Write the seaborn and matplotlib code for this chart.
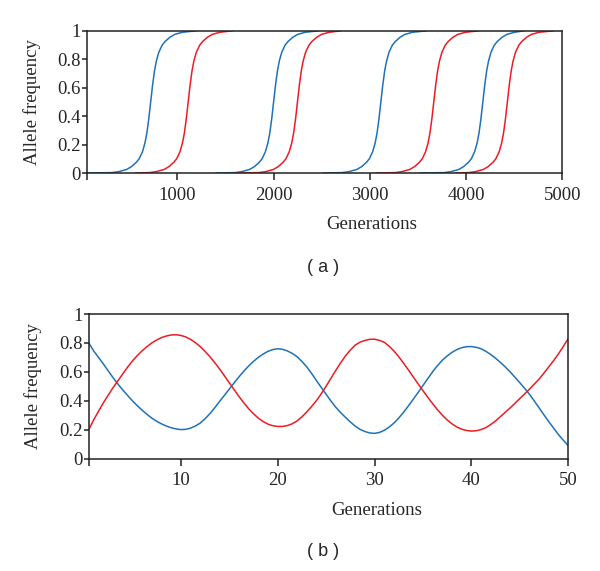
import matplotlib

matplotlib.use("Agg")

import matplotlib.pyplot as plt
import pandas as pd
import seaborn as sns

BLUE = "#1f72b8"
RED = "#ec1c24"

# (a) frequency levels every sweep passes through, and the generation where each sweep reaches them
sweep_freq = [0, 0.003, 0.01, 0.025, 0.045, 0.075, 0.10, 0.15, 0.21, 0.28, 0.38,
              0.50, 0.62, 0.72, 0.79, 0.85, 0.90, 0.925, 0.955, 0.975, 0.99, 1.0]
blue_sweeps = [
    [60, 322, 392, 472, 522, 572, 602, 637, 662, 682, 702, 722, 742, 762, 782, 807, 842, 872, 922, 972, 1052, 1192],
    [1400, 1600, 1670, 1750, 1800, 1850, 1880, 1915, 1940, 1960, 1980, 2000, 2020, 2040, 2060, 2085, 2120, 2150, 2200, 2250, 2330, 2465],
    [2510, 2715, 2785, 2865, 2915, 2965, 2995, 3030, 3055, 3075, 3095, 3115, 3135, 3155, 3175, 3200, 3235, 3265, 3315, 3365, 3445, 3590],
    [3520, 3775, 3845, 3925, 3975, 4025, 4055, 4090, 4115, 4135, 4155, 4175, 4195, 4215, 4235, 4260, 4295, 4325, 4375, 4425, 4505, 4600],
]
red_sweeps = [
    [565, 712, 782, 862, 912, 962, 992, 1027, 1052, 1072, 1092, 1112, 1132, 1152, 1172, 1197, 1232, 1262, 1312, 1362, 1442, 1570],
    [1620, 1848, 1918, 1998, 2048, 2098, 2128, 2163, 2188, 2208, 2228, 2248, 2268, 2288, 2308, 2333, 2368, 2398, 2448, 2498, 2578, 2700],
    [3060, 3265, 3335, 3415, 3465, 3515, 3545, 3580, 3605, 3625, 3645, 3665, 3685, 3705, 3725, 3750, 3785, 3815, 3865, 3915, 3995, 4130],
    [3890, 4030, 4100, 4180, 4230, 4280, 4310, 4345, 4370, 4390, 4410, 4430, 4450, 4470, 4490, 4515, 4550, 4580, 4630, 4680, 4760, 4910],
]

# (b) oscillating frequencies, read every half generation
gen_b = [g / 2 for g in range(1, 101)]
red_b = [0.20, 0.267, 0.327, 0.385, 0.438, 0.49, 0.538, 0.585, 0.632, 0.675,
         0.712, 0.745, 0.774, 0.80, 0.82, 0.837, 0.848, 0.855, 0.857, 0.852,
         0.842, 0.825, 0.802, 0.775, 0.742, 0.705, 0.664, 0.62, 0.573, 0.525,
         0.477, 0.43, 0.386, 0.345, 0.31, 0.28, 0.256, 0.238, 0.227, 0.222,
         0.222, 0.228, 0.24, 0.26, 0.288, 0.322, 0.36, 0.40, 0.448, 0.50,
         0.555, 0.61, 0.662, 0.71, 0.75, 0.785, 0.805, 0.817, 0.825, 0.826,
         0.818, 0.805, 0.778, 0.745, 0.705, 0.66, 0.613, 0.565, 0.517, 0.47,
         0.424, 0.38, 0.338, 0.30, 0.267, 0.24, 0.218, 0.203, 0.194, 0.19,
         0.192, 0.20, 0.214, 0.235, 0.26, 0.29, 0.32, 0.35, 0.382, 0.415,
         0.447, 0.48, 0.515, 0.55, 0.592, 0.635, 0.678, 0.725, 0.776, 0.83]
blue_b = [0.80, 0.745, 0.70, 0.655, 0.607, 0.56, 0.516, 0.475, 0.437, 0.40,
          0.366, 0.335, 0.306, 0.28, 0.258, 0.24, 0.225, 0.213, 0.205, 0.20,
          0.202, 0.21, 0.225, 0.245, 0.275, 0.31, 0.351, 0.395, 0.437, 0.48,
          0.523, 0.565, 0.604, 0.64, 0.672, 0.70, 0.723, 0.742, 0.754, 0.76,
          0.756, 0.745, 0.728, 0.705, 0.672, 0.635, 0.589, 0.54, 0.492, 0.445,
          0.398, 0.355, 0.318, 0.285, 0.253, 0.225, 0.202, 0.187, 0.177, 0.174,
          0.18, 0.195, 0.217, 0.245, 0.28, 0.32, 0.364, 0.41, 0.457, 0.505,
          0.553, 0.60, 0.643, 0.68, 0.71, 0.735, 0.754, 0.767, 0.774, 0.775,
          0.77, 0.76, 0.742, 0.72, 0.694, 0.665, 0.634, 0.60, 0.563, 0.525,
          0.486, 0.445, 0.398, 0.35, 0.302, 0.255, 0.21, 0.165, 0.126, 0.09]

y_ticks = [0, 0.2, 0.4, 0.6, 0.8, 1]
y_labels = ["0", "0.2", "0.4", "0.6", "0.8", "1"]

rows = []
for allele, sweeps in (("blue", blue_sweeps), ("red", red_sweeps)):
    for i, gens in enumerate(sweeps):
        for g, f in zip(gens, sweep_freq):
            rows.append({"gen": g, "freq": f, "allele": allele, "sweep": f"{allele}{i}"})
df_a = pd.DataFrame(rows)
df_b = pd.concat([
    pd.DataFrame({"gen": gen_b, "freq": blue_b, "allele": "blue"}),
    pd.DataFrame({"gen": gen_b, "freq": red_b, "allele": "red"}),
])

sns.set_style("ticks")
plt.rcParams["font.family"] = ["Liberation Serif", "DejaVu Serif"]
plt.rcParams["xtick.labelsize"] = 13.5
plt.rcParams["ytick.labelsize"] = 13.5

fig = plt.figure(figsize=(6.0, 5.71), dpi=100)
ax_a = fig.add_axes([0.145, 0.697, 0.792, 0.249])
ax_b = fig.add_axes([0.148, 0.197, 0.799, 0.253])
palette = {"blue": BLUE, "red": RED}

sns.lineplot(data=df_a, x="gen", y="freq", hue="allele", units="sweep", estimator=None,
             sort=False, palette=palette, legend=False, linewidth=1.1, ax=ax_a)
sns.lineplot(data=df_b, x="gen", y="freq", hue="allele", estimator=None,
             sort=False, palette=palette, legend=False, linewidth=1.1, ax=ax_b)

panels = [
    (ax_a, (60, 5000), [60, 1000, 2000, 3000, 4000, 5000], ["", "1000", "2000", "3000", "4000", "5000"]),
    (ax_b, (0.5, 50), [0.5, 10, 20, 30, 40, 50], ["", "10", "20", "30", "40", "50"]),
]
for ax, xlim, xt, xl in panels:
    ax.set_xlim(*xlim)
    ax.set_ylim(0, 1)
    ax.set_xticks(xt, xl)
    ax.set_yticks(y_ticks, y_labels)
    for side in ("top", "right", "bottom", "left"):
        ax.spines[side].set_visible(True)
        ax.spines[side].set_linewidth(1.1)
        ax.spines[side].set_color("#222222")
    ax.tick_params(axis="x", length=5, width=1.1, pad=5, color="#222222")
    ax.tick_params(axis="y", length=3.6, width=1.1, pad=1, color="#222222")
    ax.set_xlabel("Generations", fontsize=13.5)
    ax.set_ylabel("Allele frequency", fontsize=13.5)
    ax.xaxis.set_label_coords(0.60, -0.36)
    ax.xaxis.label.set_verticalalignment("center")
    ax.yaxis.set_label_coords(-0.116, 0.5)
    ax.yaxis.label.set_verticalalignment("center")

fig.text(0.538, 0.531, "( a )", ha="center", va="center", fontsize=13, family="Liberation Sans")
fig.text(0.538, 0.035, "( b )", ha="center", va="center", fontsize=13, family="Liberation Sans")

fig.savefig("out.png", dpi=100)
